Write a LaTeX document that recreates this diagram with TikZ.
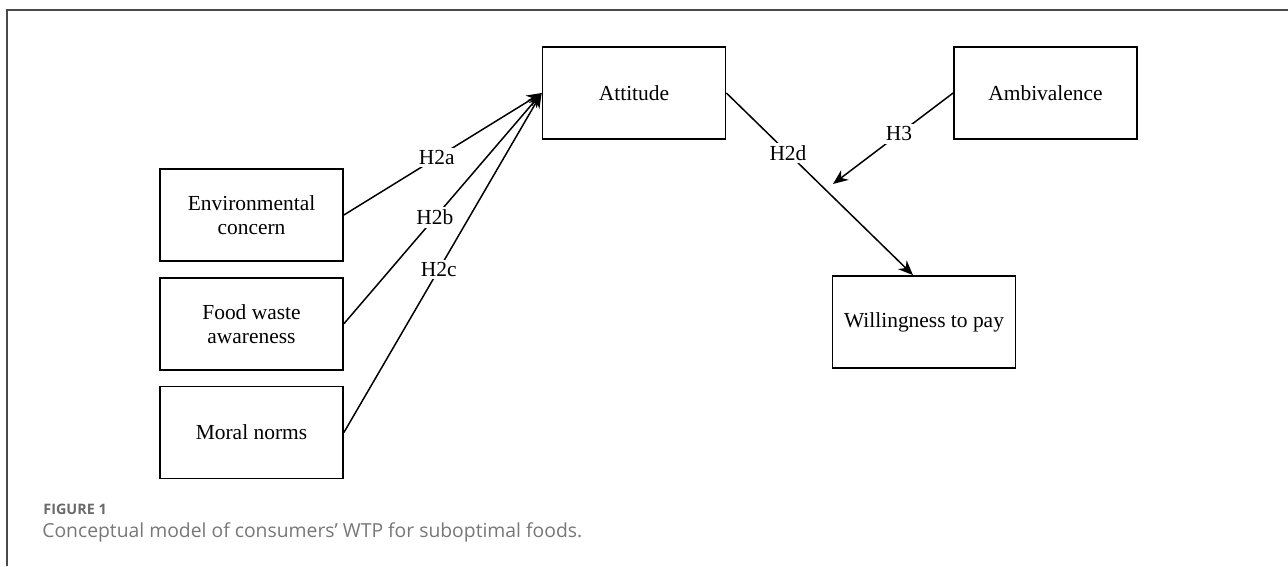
\documentclass[tikz,border=0pt]{standalone}
\usepackage{fontspec}
\setmainfont{Liberation Serif}
\newfontfamily\capfont{Open Sans}
\usetikzlibrary{arrows.meta,positioning}
\tikzset{%
  construct/.style={draw,line width=1pt,minimum width=3.66cm,minimum height=1.84cm,
    inner sep=0pt,align=center,font=\fontsize{12.2}{13.6}\selectfont},
  hyp/.style={line width=0.85pt,-{Stealth[length=8.5pt,width=7pt]}},
  hlabel/.style={fill=white,inner sep=1.5pt,font=\fontsize{12.2}{13.6}\selectfont}
}
\definecolor{c0}{HTML}{4A4A4A}
\definecolor{c1}{HTML}{6A6A6A}
\definecolor{c2}{HTML}{777777}

\begin{document}
\begin{tikzpicture}
  \useasboundingbox (0,0) rectangle (25.76,11.32);
  \draw[c0,line width=0.6pt] (0.14,0) -- (0.14,11.12) -- (25.76,11.12);
  % constructs
  \node[construct] (env) at (5.03,7.02) {Environmental\\concern};
  \node[construct,below=0.3cm of env] (food) {Food waste\\awareness};
  \node[construct,below=0.3cm of food] (moral) {Moral norms};
  \node[construct] (att) at (12.68,9.46) {Attitude};
  \node[construct] (amb) at (20.91,9.46) {Ambivalence};
  \node[construct] (wtp) at (18.48,4.88) {Willingness to pay};
  \coordinate (mod) at (16.66,7.64);
  %%%
  \draw[hyp] (env.east) -- node[hlabel,pos=0.47] (h2a) {H2a} (att.west);
  \draw[hyp] (food.east) -- node[hlabel,pos=0.46] (h2b) {H2b} (att.west);
  \draw[hyp] (moral.east) -- node[hlabel,pos=0.48] (h2c) {H2c} (att.west);
  \draw[hyp] (att.east) -- node[hlabel,pos=0.33] (h2d) {H2d} ([xshift=-0.22cm]wtp.north);
  \draw[hyp] (amb.west) -- node[hlabel,pos=0.45] (h3) {H3} (mod);
  %%%
  \node[anchor=base west,inner sep=0pt,text=c1,font=\capfont\bfseries\fontsize{8.2}{9}\selectfont] (fig) at (0.86,1.02) {FIGURE 1};
  \node[anchor=base west,inner sep=0pt,text=c2,font=\capfont\fontsize{11}{12}\selectfont] (cap) at (0.84,0.58) {Conceptual model of consumers’ WTP for suboptimal foods.};
\end{tikzpicture}
\end{document}
